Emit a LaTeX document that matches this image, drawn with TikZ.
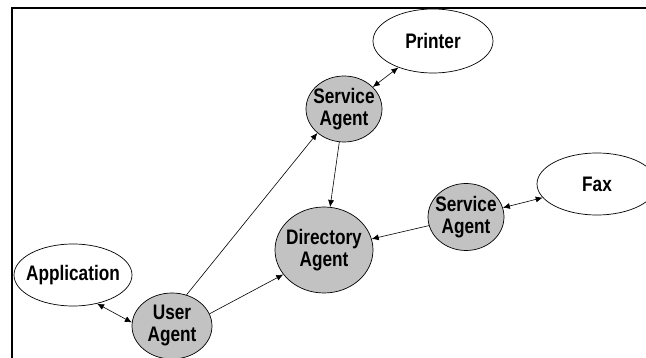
\documentclass[tikz,border=0pt]{standalone}
\usepackage{fontspec}
\setmainfont{Liberation Sans}[FakeStretch=0.82]
\usetikzlibrary{shapes.geometric,arrows.meta}
\begin{document}
\begin{tikzpicture}[x=1pt,y=-1pt,
  lbl/.style={font=\fontsize{21}{22}\selectfont\bfseries, align=center, inner sep=0pt},
  shp/.style={ellipse, draw, line width=0.7pt, inner sep=0pt},
  res/.style={shp, fill=white},
  agent/.style={shp, fill=black!24},
  link/.style={line width=0.6pt, -{Latex[length=7pt,width=6pt]}},
  dlink/.style={line width=0.6pt, {Latex[length=7pt,width=6pt]}-{Latex[length=7pt,width=6pt]}},
  frameline/.style={line width=2pt, line cap=rect}
]
\useasboundingbox (0,0) rectangle (646,358);
\coordinate (fc) at (12,8);
\coordinate (fr) at (650,8);
\coordinate (fb) at (12,362);
\draw[frameline] (fr) -- (fc) -- (fb);

\node[res, minimum width=120pt, minimum height=64pt, label={[lbl]center:Printer}] (printer) at (433,41) {};
\node[agent, minimum width=76pt, minimum height=66pt, label={[lbl]center:Service\\Agent}] (sa1) at (344,109) {};
\node[agent, minimum width=98pt, minimum height=86pt, label={[lbl]center:Directory\\Agent}] (da) at (324,250) {};
\node[agent, minimum width=76pt, minimum height=67pt, label={[lbl]center:Service\\Agent}] (sa2) at (466,217) {};
\node[res, minimum width=120pt, minimum height=62pt, label={[lbl]center:Fax}] (fax) at (597,184) {};
\node[res, minimum width=118pt, minimum height=62pt, label={[lbl]center:Application}] (app) at (73,275) {};
\node[agent, minimum width=80pt, minimum height=66pt, label={[lbl]center:User\\Agent}] (ua) at (172,326) {};

\draw[dlink] (printer) -- (sa1);
\draw[link] (sa1) -- (da);
\draw[link] (sa2) -- (da);
\draw[dlink] (sa2) -- (fax);
\draw[dlink] (app.-50) -- (ua.175);
\draw[link] (ua.65) -- (sa1.222);
\draw[link] (ua.18) -- (da.211);
\end{tikzpicture}
\end{document}
